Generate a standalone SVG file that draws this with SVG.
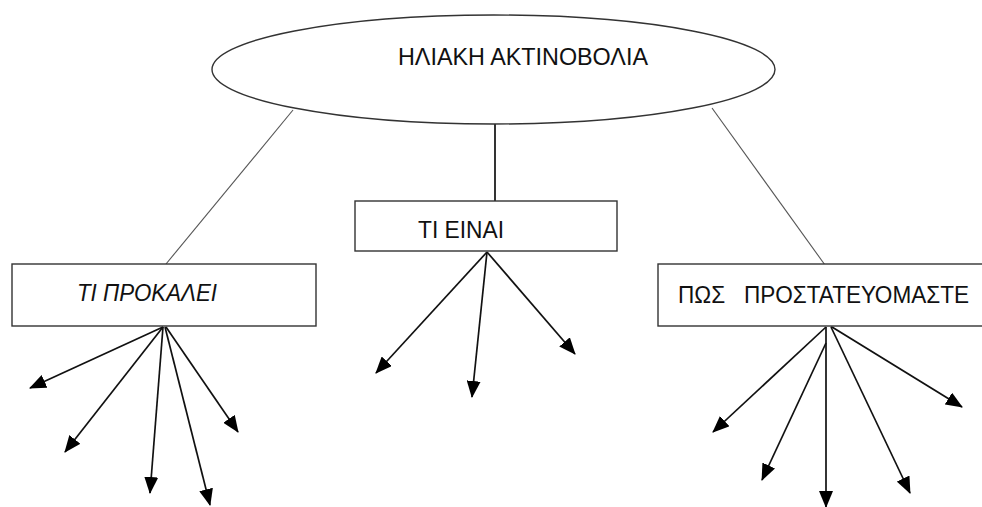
<svg xmlns="http://www.w3.org/2000/svg" width="982" height="507" viewBox="0 0 982 507">
<style>
.shape{fill:#fff;stroke:#333;stroke-width:1.4}
.lbl{font-family:"Liberation Sans",Arial,sans-serif;font-size:24px;fill:#111}
.con{stroke:#555;stroke-width:1.1;fill:none}
.arr{stroke:#111;stroke-width:1.7;fill:none;marker-end:url(#ah)}
</style>
<defs>
<marker id="ah" markerUnits="userSpaceOnUse" markerWidth="17" markerHeight="14" refX="16" refY="7" orient="auto">
<path d="M0,0 L17,7 L0,14 z" fill="#000"/>
</marker>
</defs>
<g id="connectors">
<line class="con" x1="293" y1="110" x2="166" y2="264"/>
<line x1="495" y1="124" x2="495" y2="201" stroke="#000" stroke-width="1.6"/>
<line class="con" x1="712" y1="108" x2="825" y2="265"/>
<line class="con" x1="825" y1="312" x2="832" y2="328"/>
<line class="arr" x1="163" y1="327" x2="30" y2="388"/>
<line class="arr" x1="163" y1="327" x2="65" y2="452"/>
<line class="arr" x1="163" y1="327" x2="150" y2="493"/>
<line class="arr" x1="165" y1="327" x2="210" y2="505"/>
<line class="arr" x1="166" y1="327" x2="238" y2="432"/>
<line class="arr" x1="487" y1="252" x2="376" y2="373"/>
<line class="arr" x1="487" y1="252" x2="472" y2="397"/>
<line class="arr" x1="487" y1="252" x2="575" y2="354"/>
<line class="arr" x1="826" y1="327" x2="713" y2="432"/>
<line class="arr" x1="826" y1="343" x2="762" y2="480"/>
<line class="arr" x1="826" y1="327" x2="826" y2="507"/>
<line class="arr" x1="831" y1="327" x2="910" y2="493"/>
<line class="arr" x1="832" y1="327" x2="962" y2="407"/>
</g>
<g id="node-sun">
<ellipse class="shape" cx="493.5" cy="69.5" rx="281.5" ry="54.5"/>
<text class="lbl" x="398" y="65" textLength="250" lengthAdjust="spacingAndGlyphs">ΗΛΙΑΚΗ ΑΚΤΙΝΟΒΟΛΙΑ</text>
</g>
<g id="node-what">
<rect class="shape" x="355" y="201" width="262" height="50"/>
<text class="lbl" x="418" y="238" textLength="86" lengthAdjust="spacingAndGlyphs">ΤΙ ΕΙΝΑΙ</text>
</g>
<g id="node-causes">
<rect class="shape" x="12" y="264" width="304" height="62"/>
<text class="lbl" x="77" y="301" font-style="italic" textLength="140" lengthAdjust="spacingAndGlyphs">ΤΙ ΠΡΟΚΑΛΕΙ</text>
</g>
<g id="node-protect">
<rect class="shape" x="658" y="264" width="340" height="62"/>
<text class="lbl" x="678" y="303" textLength="291" lengthAdjust="spacingAndGlyphs" xml:space="preserve">ΠΩΣ   ΠΡΟΣΤΑΤΕΥΟΜΑΣΤΕ</text>
</g>
</svg>
